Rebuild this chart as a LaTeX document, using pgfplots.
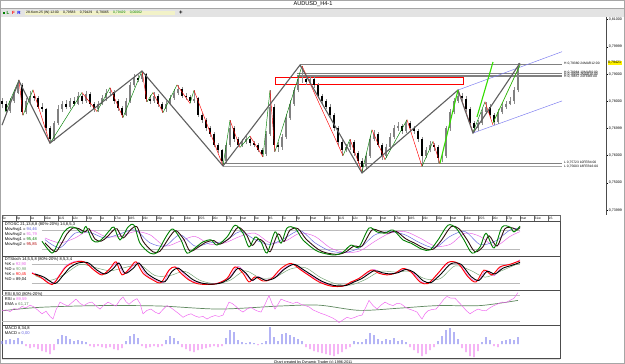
\documentclass[border=0pt]{standalone}
\usepackage{fontspec}
\setmainfont{Liberation Sans}
\usepackage{pgfplots}
\usepackage{pgfplotstable}
\pgfplotsset{compat=1.18}
\definecolor{zz}{HTML}{606060}
\definecolor{limeg}{HTML}{33DD00}
\definecolor{dgreen}{HTML}{008000}
\definecolor{chan}{HTML}{7878F0}
\definecolor{mblue}{HTML}{6060E0}
\definecolor{mpink}{HTML}{E860E8}
\definecolor{rsic}{HTML}{F060F0}
\definecolor{emac}{HTML}{70A070}
\definecolor{macdp}{HTML}{8C8CF0}
\definecolor{macdn}{HTML}{F08CF0}
\definecolor{dred}{HTML}{301010}
\definecolor{infobg}{HTML}{F2F2C8}

\pgfplotstableread{
x o c h l
2 7800 7790 7810 7775
6 7790 7765 7800 7755
10 7765 7800 7812 7758
14 7800 7830 7842 7795
18 7830 7860 7878 7825
22 7860 7760 7868 7748
26 7760 7800 7810 7752
30 7800 7820 7836 7794
34 7820 7810 7828 7800
38 7810 7780 7818 7772
42 7780 7770 7792 7760
46 7770 7700 7776 7690
50 7700 7660 7708 7645
54 7660 7720 7728 7652
58 7720 7770 7785 7712
62 7770 7790 7800 7762
66 7790 7780 7805 7770
70 7780 7800 7812 7772
74 7800 7790 7815 7782
78 7790 7820 7832 7785
82 7820 7800 7828 7790
86 7800 7825 7838 7795
90 7825 7790 7832 7780
94 7790 7770 7798 7760
98 7770 7790 7802 7762
102 7790 7810 7822 7785
106 7810 7830 7845 7802
110 7830 7835 7850 7822
114 7835 7800 7842 7790
118 7800 7775 7808 7765
122 7775 7750 7782 7740
126 7750 7800 7810 7745
130 7800 7860 7872 7795
134 7860 7885 7900 7852
138 7885 7880 7898 7870
142 7880 7900 7912 7872
146 7900 7810 7905 7798
150 7810 7800 7822 7790
154 7800 7820 7832 7795
158 7820 7790 7828 7780
162 7790 7770 7798 7758
166 7770 7790 7802 7762
170 7790 7810 7822 7785
174 7810 7830 7845 7805
178 7830 7845 7860 7822
182 7845 7820 7852 7812
186 7820 7815 7830 7805
190 7815 7800 7822 7792
194 7800 7810 7840 7795
198 7810 7750 7815 7742
202 7750 7730 7758 7720
206 7730 7700 7738 7690
210 7700 7680 7708 7670
214 7680 7640 7688 7630
218 7640 7620 7648 7608
222 7620 7580 7625 7562
226 7580 7640 7648 7572
230 7640 7700 7730 7632
234 7700 7660 7708 7650
238 7660 7640 7668 7630
242 7640 7650 7662 7632
246 7650 7660 7672 7642
250 7660 7645 7670 7636
254 7645 7640 7655 7630
258 7640 7620 7648 7612
262 7620 7605 7628 7595
266 7605 7680 7690 7600
270 7680 7780 7840 7672
274 7780 7640 7788 7615
278 7640 7630 7650 7615
282 7630 7670 7680 7622
286 7670 7740 7752 7662
290 7740 7790 7805 7732
294 7790 7840 7852 7782
298 7840 7880 7898 7832
302 7880 7880 7930 7868
306 7880 7870 7895 7860
310 7870 7880 7892 7862
314 7880 7860 7888 7850
318 7860 7820 7866 7810
322 7820 7800 7828 7790
326 7800 7780 7808 7770
330 7780 7750 7788 7740
334 7750 7700 7758 7690
338 7700 7650 7708 7640
342 7650 7620 7658 7600
346 7620 7630 7642 7612
350 7630 7650 7660 7622
354 7650 7610 7658 7600
358 7610 7580 7618 7570
362 7580 7560 7590 7540
366 7560 7600 7610 7552
370 7600 7660 7672 7592
374 7660 7680 7695 7652
378 7680 7640 7688 7630
382 7640 7600 7648 7585
386 7600 7630 7642 7592
390 7630 7670 7682 7622
394 7670 7700 7712 7662
398 7700 7710 7725 7692
402 7710 7690 7718 7680
406 7690 7720 7732 7682
410 7720 7700 7728 7690
414 7700 7690 7708 7680
418 7690 7660 7698 7650
422 7660 7600 7668 7560
426 7600 7620 7632 7590
430 7620 7640 7652 7612
434 7640 7630 7648 7618
438 7630 7590 7638 7570
442 7590 7600 7612 7575
446 7600 7700 7710 7592
450 7700 7760 7772 7692
454 7760 7800 7812 7752
458 7800 7820 7842 7792
462 7820 7810 7830 7800
466 7810 7770 7818 7760
470 7770 7720 7778 7705
474 7720 7700 7728 7685
478 7700 7720 7732 7692
482 7720 7760 7772 7712
486 7760 7780 7798 7752
490 7780 7750 7788 7740
494 7750 7725 7758 7712
498 7725 7760 7772 7718
502 7760 7780 7792 7752
506 7780 7790 7802 7772
510 7790 7800 7815 7785
514 7800 7840 7852 7790
518 7840 7930 7942 7832
}\candles

\pgfplotstableread{
x m
2 3
6 4
10 5
14 4
18 6
22 3
26 -2
30 -4
34 -3
38 -5
42 -7
46 -8
50 -10
54 -6
58 5
62 9
66 8
70 5
74 3
78 4
82 3
86 2
90 -2
94 -3
98 -2
102 -3
106 -4
110 -3
114 -5
118 -6
122 -4
126 3
130 8
134 10
138 6
142 -2
146 -4
150 -3
154 -2
158 -3
162 -2
166 4
170 8
174 6
178 3
182 -3
186 -5
190 -7
194 -8
198 -6
202 -5
206 -4
210 -3
214 -2
218 -3
222 -2
226 6
230 14
234 12
238 4
242 2
246 1
250 2
254 1
258 -1
262 1
266 3
270 17
274 7
278 3
282 10
286 11
290 9
294 7
298 5
302 3
306 -3
310 -5
314 -7
318 -8
322 -9
326 -10
330 -11
334 -12
338 -10
342 -8
346 -5
350 -3
354 3
358 2
362 2
366 5
370 11
374 9
378 5
382 3
386 5
390 4
394 6
398 3
402 4
406 2
410 -3
414 -6
418 -9
422 -12
426 -10
430 -6
434 -3
438 3
442 8
446 14
450 16
454 12
458 5
462 -4
466 -8
470 -12
474 -13
478 -7
482 2
486 7
490 4
494 -2
498 -3
502 3
506 4
510 5
514 4
518 7
}\macd

\pgfplotsset{panel/.style={scale only axis, width=558pt, xmin=2, xmax=560,
  xtick=\empty, ytick=\empty, axis line style={black!70, line width=0.8pt}, clip=false}}
\def\lf{\fontsize{4.1}{5}\selectfont}

\begin{document}
\begin{tikzpicture}
\useasboundingbox (0pt,0pt) rectangle (625pt,364pt);
\fill[white] (0pt,0pt) rectangle (625pt,364pt);
% title bar and toolbar
\fill[gray!22] (1pt,347pt) rectangle (624pt,355.5pt);
\draw[gray!70] (1pt,355.5pt) -- (624pt,355.5pt);
\node[font=\fontsize{5.6}{6}\selectfont, inner sep=0pt] at (313pt,359.8pt) {AUDUSD\_H4-1};
\fill[dgreen] (2.5pt,349.8pt) rectangle (5pt,352.3pt);
\node[font=\fontsize{4.5}{5}\selectfont\bfseries, text=dgreen, inner sep=0pt] at (8pt,351pt) {L};
\node[font=\fontsize{4.5}{5}\selectfont\bfseries, text=red, inner sep=0pt] at (13.5pt,351pt) {F};
\node[font=\fontsize{4.5}{5}\selectfont\bfseries, text=blue, inner sep=0pt] at (19pt,351pt) {R};
\fill[infobg] (25pt,348.8pt) rectangle (175pt,353.4pt);
\node[font=\fontsize{3.4}{4}\selectfont, anchor=west, inner sep=0pt] at (26pt,351pt) {28-Kem-25 (W) 12:00 \quad 0,79583 \quad 0,79429 \quad 0,79065 \quad \textcolor{dgreen}{0,79429 \quad 0,00062}};
\node[font=\fontsize{6}{6}\selectfont\bfseries, inner sep=0pt] at (181pt,351pt) {+};

% ===== main price panel =====
\begin{axis}[at={(2pt,149pt)}, anchor=south west, scale only axis, width=604pt, height=198pt,
  xmin=2, xmax=606, ymin=7381.6, ymax=8109.6, clip=false,
  axis x line=none, axis y line*=right,
  y axis line style={black!70, line width=0.6pt},
  ytick={7400,7500,...,8100},
  /pgf/number format/assume math mode=true,
  yticklabel={\pgfmathparse{\tick/10000}\pgfmathprintnumber[fixed,precision=5,zerofill,use comma]{\pgfmathresult}},
  yticklabel style={font=\fontsize{3.6}{4}\selectfont, inner sep=0.6pt},
  tick style={black, line width=0.3pt}, major tick length=2pt, tick align=outside]
% level lines
\addplot[gray, line width=0.5pt] coordinates {(300,7937) (562,7937)};
\addplot[gray, line width=0.5pt] coordinates {(297,7901) (562,7901)};
\addplot[gray, line width=0.5pt] coordinates {(297,7897) (562,7897)};
\addplot[gray, line width=0.5pt] coordinates {(297,7890) (562,7890)};
\addplot[gray, line width=0.5pt] coordinates {(223,7572) (562,7572)};
\addplot[gray!70, line width=0.5pt] coordinates {(223,7562) (562,7562)};
% red box
\addplot[red, line width=0.8pt] coordinates {(275,7888) (463,7888) (463,7863) (275,7863) (275,7888)};
% channel
\addplot[chan, line width=0.45pt] coordinates {(458,7841) (562,7982)};
\addplot[chan, line width=0.45pt] coordinates {(473,7683) (562,7801)};
% candles: wicks
\addplot[draw=none, mark=none, error bars/.cd, y dir=plus, y explicit, error mark=none,
  error bar style={draw=black!45, line width=0.5pt}]
  table[x=x, y=l, y error expr={\thisrow{h}-\thisrow{l}}] {\candles};
% up bodies
\addplot[draw=none, mark=none, restrict expr to domain={\thisrow{c}-\thisrow{o}}{0.5:1000},
  error bars/.cd, y dir=both, y explicit, error mark=none,
  error bar style={draw=black!50, line width=2.6pt}]
  table[x=x, y expr={(\thisrow{o}+\thisrow{c})/2}, y error expr={abs(\thisrow{o}-\thisrow{c})/2}] {\candles};
% down bodies
\addplot[draw=none, mark=none, restrict expr to domain={\thisrow{o}-\thisrow{c}}{0.5:1000},
  error bars/.cd, y dir=both, y explicit, error mark=none,
  error bar style={draw=black, line width=2.6pt}]
  table[x=x, y expr={(\thisrow{o}+\thisrow{c})/2}, y error expr={abs(\thisrow{o}-\thisrow{c})/2}] {\candles};
% minor zigzag: up legs
\addplot[dgreen, line width=0.45pt, unbounded coords=jump] coordinates {
(5,7760) (19,7878) (19,nan) (23,7748) (33,7842) (33,nan) (50,7645) (82,7832) (82,nan)
(97,7762) (110,7850) (110,nan) (123,7740) (142,7912) (142,nan) (147,7798) (153,7832) (153,nan)
(163,7758) (177,7860) (177,nan) (190,7792) (194,7840) (194,nan) (223,7562) (230,7730) (230,nan)
(240,7630) (250,7672) (250,nan) (263,7595) (270,7840) (270,nan) (275,7615) (302,7930) (302,nan)
(343,7600) (350,7660) (350,nan) (362,7540) (372,7695) (372,nan) (385,7585) (407,7732) (407,nan)
(422,7560) (433,7652) (433,nan) (473,7686) (485,7798)};
% minor zigzag: down legs
\addplot[red, line width=0.45pt, unbounded coords=jump] coordinates {
(19,7878) (23,7748) (23,nan) (33,7842) (50,7645) (50,nan) (82,7832) (97,7762) (97,nan)
(110,7850) (123,7740) (123,nan) (142,7912) (147,7798) (147,nan) (153,7832) (163,7758) (163,nan)
(177,7860) (190,7792) (190,nan) (194,7840) (223,7562) (223,nan) (230,7730) (240,7630) (240,nan)
(250,7672) (263,7595) (263,nan) (270,7840) (275,7615) (275,nan) (302,7930) (343,7600) (343,nan)
(350,7660) (362,7540) (362,nan) (372,7695) (385,7585) (385,nan) (407,7732) (422,7560) (422,nan)
(433,7652) (440,7570) (440,nan) (458,7842) (473,7686) (473,nan) (485,7798) (493,7712)};
% major zigzag
\addplot[zz, line width=1.1pt] coordinates {(2,7712) (19,7875) (50,7646) (142,7911) (223,7562)
 (300,7933) (362,7536) (458,7841) (473,7683) (520,7940)};
% lime lines
\addplot[limeg, line width=1.1pt] coordinates {(440,7572) (458,7841)};
\addplot[limeg, line width=1.1pt] coordinates {(477,7742) (493,7944)};
\addplot[limeg!80!black, line width=0.7pt] coordinates {(493,7720) (520,7933)};
% labels
\node[anchor=west, font=\fontsize{3.3}{4}\selectfont, inner sep=0pt] at (axis cs:564,7937) {H 0,79380 24MAR12:00};
\node[anchor=west, font=\fontsize{3.3}{4}\selectfont, inner sep=0pt] at (axis cs:564,7905) {H 0,78984 10MAR0:00};
\node[anchor=west, font=\fontsize{3.3}{4}\selectfont, inner sep=0pt] at (axis cs:564,7897) {H 0,78932 2MAR16:00};
\node[anchor=west, font=\fontsize{3.3}{4}\selectfont, inner sep=0pt] at (axis cs:564,7889) {H 0,78857 24FEB8:00};
\node[anchor=west, font=\fontsize{3.3}{4}\selectfont, inner sep=0pt] at (axis cs:564,7575) {L 0,75723 10FEB4:00};
\node[anchor=west, font=\fontsize{3.3}{4}\selectfont, inner sep=0pt] at (axis cs:564,7560) {L 0,75603 18FEB16:00};
\node[anchor=west, fill=yellow, font=\fontsize{3.6}{4}\selectfont, inner sep=0.5pt] at (axis cs:607.5,7942) {0,79421};
\end{axis}

% ===== date row =====
\begin{axis}[at={(2pt,143pt)}, anchor=south west, scale only axis, width=558pt, height=6pt,
  xmin=2, xmax=560, ymin=0, ymax=1, ytick=\empty, clip=false,
  axis line style={black!60, line width=0.4pt},
  xtick={2,16,...,548}, xtick pos=bottom, tick align=inside, major tick length=6pt,
  tick style={black!60, line width=0.3pt},
  xticklabels={5c,6p,1e,10w,11S,12c,13p,1e,17w,18S,19c,20p,1e,24w,25S,26c,27p,mar,3w,4S,5c,6p,mar,10w,11S,12c,13p,mar,17w,18S,19c,20p,mar,24w,25S,26c,27p,mar,31w,1S},
  xticklabel style={anchor=south west, font=\fontsize{3.3}{4}\selectfont, inner sep=0.4pt, yshift=0.6pt}]
\end{axis}

% ===== DTOSC =====
\begin{axis}[panel, at={(2pt,108pt)}, anchor=south west, height=35pt, ymin=-1, ymax=108]
\addplot[gray!55, line width=0.4pt] coordinates {(42,80) (520,80)};
\addplot[gray!55, line width=0.4pt] coordinates {(42,20) (520,20)};
\addplot[mpink, line width=0.45pt, smooth] coordinates {(45,55)(60,40)(75,55)(90,80)(105,60)(120,60)(135,75)(150,65)(165,30)(180,45)(195,60)(210,35)(225,40)(240,60)(255,70)(270,40)(285,45)(300,70)(315,60)(330,25)(345,10)(360,15)(375,45)(390,70)(405,75)(420,55)(435,30)(450,35)(465,70)(480,60)(495,30)(510,60)(520,75)};
\addplot[mblue, line width=0.45pt, smooth] coordinates {(45,50)(60,25)(75,70)(90,72)(105,55)(120,68)(135,80)(150,40)(165,30)(180,65)(195,30)(210,40)(225,45)(240,75)(255,50)(270,35)(285,55)(300,78)(315,40)(330,15)(345,10)(360,25)(375,65)(390,75)(405,65)(420,40)(435,25)(450,60)(465,75)(480,35)(495,45)(510,80)(520,86)};
\addplot[dred, line width=0.9pt, smooth] coordinates {(45,40)(55,12)(61,35)(67,68)(73,86)(79,84)(85,74)(89,84)(95,52)(101,45)(107,58)(113,78)(117,84)(123,55)(131,82)(137,90)(143,45)(153,12)(160,14)(170,60)(176,78)(184,50)(190,14)(198,26)(206,42)(214,47)(220,36)(230,56)(238,88)(246,68)(252,32)(258,52)(264,42)(270,12)(278,68)(284,44)(290,80)(298,84)(306,52)(318,20)(326,9)(338,4)(346,12)(354,30)(362,30)(372,80)(380,76)(388,70)(396,76)(406,52)(414,40)(425,22)(433,20)(441,46)(451,90)(459,84)(467,50)(475,12)(483,28)(489,62)(497,30)(505,84)(513,86)(517,80)(520,88)};
\addplot[dgreen, line width=0.9pt, smooth] coordinates {(42,45)(52,8)(58,39)(64,74)(70,89)(76,86)(82,70)(86,91)(92,49)(98,43)(104,58)(110,80)(114,89)(120,49)(128,89)(134,95)(140,39)(150,8)(157,11)(167,64)(173,83)(181,49)(187,8)(195,24)(203,43)(211,49)(217,33)(227,58)(235,95)(243,70)(249,27)(255,58)(261,43)(267,8)(275,74)(281,39)(287,86)(295,86)(303,49)(315,18)(323,8)(335,2)(343,11)(351,33)(359,27)(369,86)(377,74)(385,70)(393,80)(403,49)(411,39)(422,20)(430,18)(438,49)(448,95)(456,86)(464,49)(472,8)(480,27)(486,70)(494,24)(502,89)(510,89)(514,74)(520,92)};
\node[anchor=north west, align=left, font=\lf, inner sep=0.5pt] at (axis description cs:0.004,0.97) {DTOSC 21,13,8,8 (80\%-20\%) 14,8,5,3\\MovAvg1 = \textcolor{mblue}{94,46}\\MovAvg2 = \textcolor{mpink}{91,79}\\MovAvg1 = \textcolor{dgreen}{95,48}\\MovAvg2 = \textcolor{red!70!black}{95,85}};
\end{axis}

% ===== DTStoch =====
\begin{axis}[panel, at={(2pt,73.5pt)}, anchor=south west, height=34.5pt, ymin=-1.6, ymax=106]
\addplot[gray!55, line width=0.4pt] coordinates {(32,80) (520,80)};
\addplot[gray!55, line width=0.4pt] coordinates {(32,20) (520,20)};
\addplot[emac, line width=0.45pt, smooth] coordinates {(35,45)(50,30)(65,50)(80,80)(95,70)(110,60)(125,70)(140,78)(155,45)(170,45)(185,58)(200,30)(215,20)(230,30)(245,60)(260,38)(275,40)(290,65)(305,70)(320,40)(335,20)(350,15)(365,32)(380,58)(395,56)(410,58)(425,35)(440,35)(455,75)(470,62)(485,40)(500,58)(515,78)(520,82)};
\addplot[mpink, line width=0.45pt, smooth] coordinates {(32,55)(42,38)(52,20)(60,50)(66,76)(76,90)(86,86)(96,58)(104,50)(112,72)(118,86)(124,50)(132,72)(138,86)(146,48)(156,30)(164,25)(170,66)(178,70)(184,48)(192,28)(200,22)(210,18)(220,24)(230,42)(238,74)(246,48)(252,28)(258,42)(266,30)(276,45)(286,72)(294,80)(304,58)(314,38)(322,24)(334,12)(346,14)(354,28)(364,46)(374,64)(382,50)(390,50)(398,56)(406,66)(414,50)(422,24)(430,24)(440,58)(450,88)(460,78)(470,38)(478,28)(486,62)(494,44)(502,74)(512,82)(520,94)};
\addplot[red, line width=0.9pt, smooth] coordinates {(32,52)(40,41)(52,17)(60,47)(66,72)(74,86)(84,88)(94,62)(102,47)(110,67)(116,88)(122,47)(130,69)(136,88)(143,52)(153,31)(161,23)(169,62)(175,72)(181,52)(189,31)(197,20)(207,17)(217,20)(227,36)(235,72)(243,52)(249,25)(255,41)(263,28)(271,34)(281,67)(291,83)(301,62)(311,41)(319,25)(331,12)(343,12)(351,25)(359,36)(371,62)(379,52)(387,47)(395,52)(403,67)(411,56)(420,25)(428,20)(438,52)(448,86)(458,83)(468,41)(476,25)(484,62)(492,47)(500,72)(510,80)(520,91)};
\addplot[black, line width=0.9pt, smooth] coordinates {(35,50)(44,40)(55,20)(63,45)(70,70)(78,84)(88,85)(97,62)(105,50)(113,66)(119,84)(125,52)(133,67)(139,84)(147,52)(157,32)(165,26)(172,58)(178,68)(185,52)(193,32)(201,22)(211,18)(221,22)(230,38)(238,68)(246,52)(252,30)(258,40)(266,30)(275,38)(284,64)(294,80)(304,62)(314,42)(322,27)(334,14)(346,14)(354,25)(362,36)(374,60)(382,54)(390,50)(398,54)(406,64)(414,55)(423,29)(431,23)(441,50)(451,82)(461,80)(471,42)(479,30)(487,58)(495,50)(503,68)(513,78)(520,86)};
\node[anchor=north west, align=left, font=\lf, inner sep=0.5pt] at (axis description cs:0.004,0.97) {DTStoch 14,5,5,8 (80\%-20\%) 8,5,3,4\\\%K = \textcolor{mpink}{92,90}\\\%D = \textcolor{emac}{90,98}\\\%K = \textcolor{red}{90,45}\\\%D = 89,04};
\end{axis}

% ===== RSI =====
\begin{axis}[panel, at={(2pt,39pt)}, anchor=south west, height=34.5pt, ymin=10.2, ymax=89.8]
\addplot[gray!55, line width=0.4pt] coordinates {(2,80) (520,80)};
\addplot[gray!55, line width=0.4pt] coordinates {(2,20) (520,20)};
\addplot[emac!85!black, line width=0.7pt, smooth] coordinates {(2,43)(40,51)(100,55)(160,54)(219,47)(280,54)(319,56)(359,44)(399,49)(438,55)(480,55)(518,67)};
\addplot[rsic, line width=0.45pt] coordinates {(2,43)(6,45)(10,41)(14,48)(18,46)(22,53)(26,50)(30,56)(34,52)(38,44)(42,36)(46,42)(50,30)(53,24)(56,45)(60,63)(64,58)(68,54)(72,62)(76,70)(80,60)(84,55)(88,61)(92,63)(96,54)(100,47)(104,56)(108,63)(112,58)(116,54)(120,68)(123,75)(126,64)(129,58)(133,66)(137,71)(140,60)(143,36)(147,44)(151,47)(155,40)(159,36)(163,46)(167,55)(171,50)(175,43)(179,36)(183,28)(187,33)(191,36)(195,31)(199,28)(203,30)(207,24)(211,29)(215,32)(219,30)(223,33)(226,48)(229,63)(232,60)(235,55)(239,46)(243,40)(247,47)(251,51)(255,45)(258,42)(261,40)(265,58)(269,78)(272,60)(275,47)(278,58)(281,70)(285,66)(289,63)(293,60)(297,63)(301,58)(305,55)(309,52)(313,45)(317,41)(321,37)(325,34)(329,30)(333,26)(337,20)(339,16)(343,22)(347,28)(351,25)(355,28)(358,31)(362,33)(366,52)(369,67)(373,55)(377,47)(381,56)(385,63)(389,58)(393,55)(397,60)(401,59)(405,52)(409,47)(413,44)(417,40)(420,30)(422,24)(425,36)(428,43)(432,46)(436,47)(440,58)(444,70)(447,76)(451,72)(455,72)(459,62)(462,55)(466,44)(470,36)(474,42)(478,47)(482,44)(486,43)(490,50)(494,55)(498,59)(502,63)(506,62)(510,67)(514,72)(518,85)};
\node[anchor=north west, align=left, font=\lf, inner sep=0.5pt] at (axis description cs:0.004,0.97) {RSI 8,50 (80\%-20\%)\\RSI = \textcolor{rsic}{89,59}\\EMA = \textcolor{emac!80!black}{61,17}};
\end{axis}

% ===== MACD =====
\begin{axis}[panel, at={(2pt,5.5pt)}, anchor=south west, height=33.5pt, ymin=-14.3, ymax=19.2]
\addplot[ybar, bar width=1.3pt, bar shift=0pt, fill=macdp, draw=none, restrict y to domain=0:100] table[x=x, y=m] {\macd};
\addplot[ybar, bar width=1.3pt, bar shift=0pt, fill=macdn, draw=none, restrict y to domain=-100:0] table[x=x, y=m] {\macd};
\node[anchor=north west, align=left, font=\lf, inner sep=0.5pt] at (axis description cs:0.004,0.97) {MACD 8,34,8\\MACD = \textcolor{mblue}{0,00}};
\end{axis}

\fill[gray!25] (2pt,3.8pt) rectangle (560pt,5.2pt);
\node[font=\fontsize{3.7}{4}\selectfont, inner sep=0pt] at (313pt,1.9pt) {Chart created by Dynamic Trader (c) 1996-2011};
\draw[gray!70, line width=0.6pt] (0.3pt,0.3pt) rectangle (624.7pt,363.7pt);
\end{tikzpicture}
\end{document}
